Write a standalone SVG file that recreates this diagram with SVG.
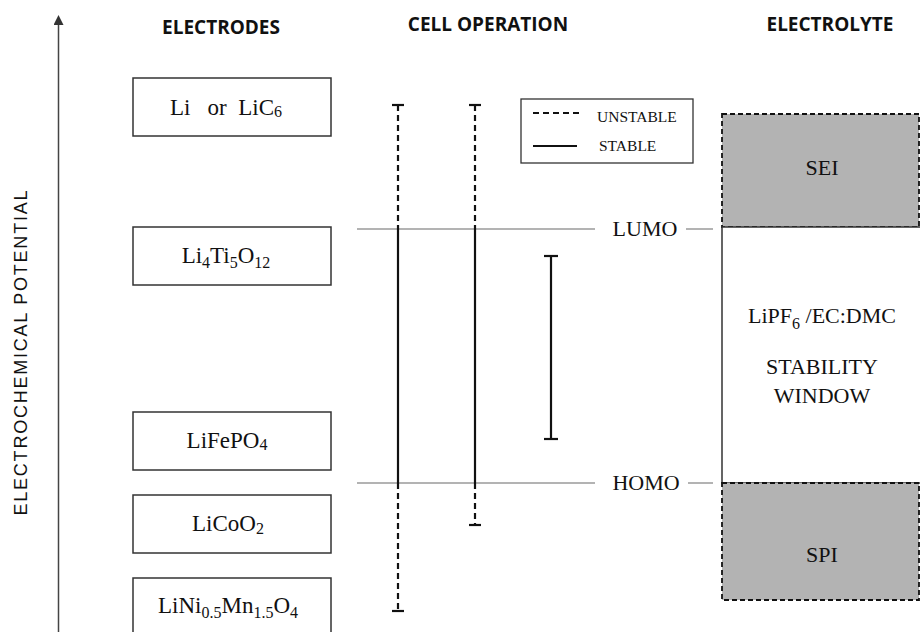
<svg xmlns="http://www.w3.org/2000/svg" width="920" height="632" viewBox="0 0 920 632">
<style>
.hdr{font-family:"Open Sans","Liberation Sans",sans-serif;font-weight:bold;font-size:19px;fill:#111;text-anchor:middle}
.lbl{font-family:"Liberation Serif","DejaVu Serif",serif;font-size:22px;fill:#111;text-anchor:middle}
.el{font-family:"Liberation Serif","DejaVu Serif",serif;font-size:23px;fill:#111;text-anchor:middle}
.leg{font-family:"Liberation Serif","DejaVu Serif",serif;font-size:15.5px;fill:#111}
.box{fill:#fff;stroke:#333;stroke-width:1.5}
.gray{stroke:#b3b3b3;stroke-width:2}
.solid{stroke:#111;stroke-width:2.2;fill:none}
.dash{stroke:#111;stroke-width:2.2;stroke-dasharray:6,4;fill:none}
.shaded{fill:#b3b3b3;stroke:#111;stroke-width:1.8;stroke-dasharray:5,3}
</style>
<defs>
<marker id="arr" markerWidth="10" markerHeight="10" refX="5" refY="5" orient="auto" markerUnits="userSpaceOnUse">
<path d="M0,0 L10,5 L0,10 Z" fill="#333"/>
</marker>
</defs>
<rect width="920" height="632" fill="#fff"/>

<g id="axis">
<line x1="58.5" y1="632" x2="58.5" y2="20" stroke="#444" stroke-width="1.5" marker-end="url(#arr)"/>
<text transform="translate(27,353) rotate(-90)" font-family="Liberation Sans,Arial,sans-serif" font-size="18" fill="#111" text-anchor="middle" textLength="325">ELECTROCHEMICAL POTENTIAL</text>
</g>

<g id="headers">
<text class="hdr" x="221" y="34">ELECTRODES</text>
<text class="hdr" x="488" y="31">CELL OPERATION</text>
<text class="hdr" x="830" y="31">ELECTROLYTE</text>
</g>

<g id="electrode-li">
<rect class="box" x="133" y="78" width="198" height="58"/>
<text class="el" x="226" y="115" xml:space="preserve">Li   or  LiC<tspan font-size="16" dy="2">6</tspan></text>
</g>
<g id="electrode-lto">
<rect class="box" x="133" y="227" width="198" height="58"/>
<text class="el" x="226" y="263">Li<tspan font-size="16" dy="5">4</tspan><tspan dy="-5">Ti</tspan><tspan font-size="16" dy="5">5</tspan><tspan dy="-5">O</tspan><tspan font-size="16" dy="5">12</tspan></text>
</g>
<g id="electrode-lfp">
<rect class="box" x="133" y="412" width="198" height="58"/>
<text class="el" x="227" y="448">LiFePO<tspan font-size="16" dy="2">4</tspan></text>
</g>
<g id="electrode-lco">
<rect class="box" x="133" y="495" width="198" height="58"/>
<text class="el" x="228" y="531">LiCoO<tspan font-size="16" dy="3">2</tspan></text>
</g>
<g id="electrode-lnmo">
<rect class="box" x="133" y="578" width="198" height="60"/>
<text class="el" x="228" y="613">LiNi<tspan font-size="16" dy="5">0.5</tspan><tspan dy="-5">Mn</tspan><tspan font-size="16" dy="5">1.5</tspan><tspan dy="-5">O</tspan><tspan font-size="16" dy="5">4</tspan></text>
</g>

<g id="electrolyte-sei">
<rect class="shaded" x="722" y="114" width="197" height="113"/>
<text class="lbl" x="822" y="175">SEI</text>
</g>
<g id="electrolyte-window">
<rect class="box" x="722" y="227" width="200" height="256"/>
<text class="lbl" x="822" y="323" xml:space="preserve">LiPF<tspan font-size="16" dy="6">6</tspan><tspan dy="-6"> /EC:DMC</tspan></text>
<text class="lbl" x="822" y="374">STABILITY</text>
<text class="lbl" x="822" y="403">WINDOW</text>
</g>
<g id="electrolyte-spi">
<rect class="shaded" x="722" y="483" width="197" height="117"/>
<text class="lbl" x="822" y="562">SPI</text>
</g>

<g id="legend">
<rect x="521" y="99" width="172" height="64" fill="#fff" stroke="#333" stroke-width="1.3"/>
<line class="dash" x1="533" y1="113" x2="582" y2="113" stroke-dasharray="5,4"/>
<line class="solid" x1="533" y1="146" x2="577" y2="146"/>
<text class="leg" x="597" y="122">UNSTABLE</text>
<text class="leg" x="599" y="151">STABLE</text>
</g>

<g id="levels">
<line class="gray" x1="357" y1="229" x2="595" y2="229"/>
<text class="lbl" x="645" y="236">LUMO</text>
<line class="gray" x1="686" y1="229" x2="713" y2="229"/>
<line class="gray" x1="357" y1="483" x2="595" y2="483"/>
<text class="lbl" x="646" y="490">HOMO</text>
<line class="gray" x1="688" y1="483" x2="713" y2="483"/>
</g>

<g id="connectors">
<line class="dash" x1="398" y1="105" x2="398" y2="229"/>
<line class="solid" x1="398" y1="229" x2="398" y2="483"/>
<line class="dash" x1="398" y1="483" x2="398" y2="611"/>
<line class="solid" x1="392" y1="105" x2="404" y2="105"/>
<line class="solid" x1="392" y1="611" x2="404" y2="611"/>

<line class="dash" x1="475" y1="105" x2="475" y2="229"/>
<line class="solid" x1="475" y1="229" x2="475" y2="483"/>
<line class="dash" x1="475" y1="483" x2="475" y2="525"/>
<line class="solid" x1="469" y1="105" x2="481" y2="105"/>
<line class="solid" x1="469" y1="525" x2="481" y2="525"/>

<line class="solid" x1="551" y1="256" x2="551" y2="439"/>
<line class="solid" x1="544" y1="256" x2="558" y2="256"/>
<line class="solid" x1="544" y1="439" x2="558" y2="439"/>
</g>
</svg>
